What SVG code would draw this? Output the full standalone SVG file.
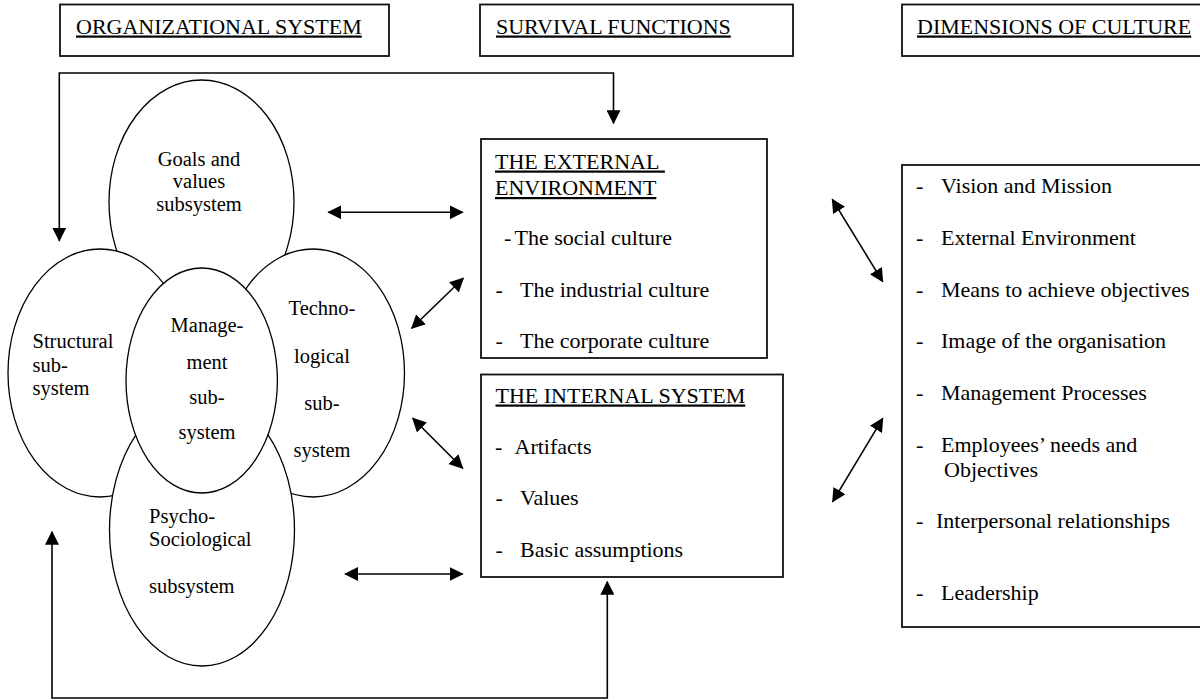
<svg xmlns="http://www.w3.org/2000/svg" width="1200" height="700" viewBox="0 0 1200 700">
  <defs>
    <marker id="arrow" viewBox="0 0 14 14" refX="13" refY="7" markerWidth="14" markerHeight="14" markerUnits="userSpaceOnUse" orient="auto-start-reverse">
      <path d="M0,0 L14,7 L0,14 z" fill="#000"/>
    </marker>
    <style>
      .box { fill: #fff; stroke: #111; stroke-width: 1.8; }
      .ell { fill: #fff; stroke: #000; stroke-width: 1.3; }
      .conn { fill: none; stroke: #000; stroke-width: 1.6; }
      .dbl { marker-start: url(#arrow); marker-end: url(#arrow); }
      text { font-family: "Liberation Serif", "Times New Roman", serif; fill: #000; }
      .hd { font-size: 22px; text-decoration: underline; }
      .it { font-size: 22px; }
      .el { font-size: 20.5px; }
      .mid { text-anchor: middle; }
    </style>
  </defs>
  <rect width="1200" height="700" fill="#fff"/>

  <!-- column headers -->
  <g id="hdr-org">
    <rect class="box" x="60" y="4.5" width="329" height="51.5"/>
    <text class="hd" x="76" y="33.5">ORGANIZATIONAL SYSTEM</text>
  </g>
  <g id="hdr-survival">
    <rect class="box" x="480" y="4.5" width="313" height="51.5"/>
    <text class="hd" x="496" y="33.5">SURVIVAL FUNCTIONS</text>
  </g>
  <g id="hdr-dimensions">
    <rect class="box" x="902" y="4.5" width="320" height="51.5"/>
    <text class="hd" x="917" y="33.5">DIMENSIONS OF CULTURE</text>
  </g>

  <!-- organizational subsystems (overlapping ellipses, back to front) -->
  <g id="goals">
    <ellipse class="ell" cx="201.5" cy="202" rx="92.5" ry="122"/>
    <text class="el mid" x="199" y="165.5">Goals and</text>
    <text class="el mid" x="199" y="188">values</text>
    <text class="el mid" x="199" y="210.5">subsystem</text>
  </g>
  <g id="structural">
    <ellipse class="ell" cx="100" cy="373" rx="92" ry="124"/>
    <text class="el" x="32.5" y="348">Structural</text>
    <text class="el" x="32.5" y="371.5">sub-</text>
    <text class="el" x="32.5" y="395">system</text>
  </g>
  <g id="technological">
    <ellipse class="ell" cx="313" cy="373" rx="91.5" ry="124"/>
    <text class="el mid" x="322" y="315">Techno-</text>
    <text class="el mid" x="322" y="363">logical</text>
    <text class="el mid" x="322" y="410">sub-</text>
    <text class="el mid" x="322" y="457">system</text>
  </g>
  <g id="psycho">
    <ellipse class="ell" cx="202" cy="530" rx="92.5" ry="136"/>
    <text class="el" x="149" y="523">Psycho-</text>
    <text class="el" x="149" y="546">Sociological</text>
    <text class="el" x="149" y="593">subsystem</text>
  </g>
  <g id="management">
    <ellipse class="ell" cx="201.7" cy="380.5" rx="75.7" ry="112.5"/>
    <text class="el mid" x="207" y="332">Manage-</text>
    <text class="el mid" x="207" y="368.5">ment</text>
    <text class="el mid" x="207" y="403.5">sub-</text>
    <text class="el mid" x="207" y="438.5">system</text>
  </g>

  <!-- survival functions -->
  <g id="external">
    <rect class="box" x="481" y="139" width="286" height="219"/>
    <text class="hd" x="495" y="168.5">THE EXTERNAL&#160;</text>
    <text class="hd" x="495" y="195">ENVIRONMENT</text>
    <text class="it" x="504" y="245">-</text>
    <text class="it" x="514.5" y="245">The social culture</text>
    <text class="it" x="495.5" y="297">-</text>
    <text class="it" x="520" y="297">The industrial culture</text>
    <text class="it" x="495.5" y="348">-</text>
    <text class="it" x="520" y="348">The corporate culture</text>
  </g>
  <g id="internal">
    <rect class="box" x="481" y="374.5" width="302" height="202.5"/>
    <text class="hd" x="495.5" y="402.5">THE INTERNAL SYSTEM</text>
    <text class="it" x="495" y="453.5">-</text>
    <text class="it" x="514.5" y="453.5">Artifacts</text>
    <text class="it" x="495.5" y="505">-</text>
    <text class="it" x="520" y="505">Values</text>
    <text class="it" x="495.5" y="557">-</text>
    <text class="it" x="520" y="557">Basic assumptions</text>
  </g>

  <!-- dimensions of culture -->
  <g id="dimensions">
    <rect class="box" x="902" y="165" width="320" height="462"/>
    <text class="it" x="916" y="193">-</text>
    <text class="it" x="941" y="193">Vision and Mission</text>
    <text class="it" x="916" y="245">-</text>
    <text class="it" x="941" y="245">External Environment</text>
    <text class="it" x="916" y="297">-</text>
    <text class="it" x="941" y="297">Means to achieve objectives</text>
    <text class="it" x="916" y="348">-</text>
    <text class="it" x="941" y="348">Image of the organisation</text>
    <text class="it" x="916" y="400">-</text>
    <text class="it" x="941" y="400">Management Processes</text>
    <text class="it" x="916" y="451.5">-</text>
    <text class="it" x="941" y="451.5">Employees’ needs and</text>
    <text class="it" x="944" y="477">Objectives</text>
    <text class="it" x="916" y="528">-</text>
    <text class="it" x="936" y="528">Interpersonal relationships</text>
    <text class="it" x="916" y="599.5">-</text>
    <text class="it" x="941" y="599.5">Leadership</text>
  </g>

  <!-- connectors -->
  <g id="connectors">
    <path class="conn dbl" d="M59.3,240.7 V73 H613.5 V123.3"/>
    <path class="conn dbl" d="M52,531.7 V698 H607.3 V581.7"/>
    <path class="conn dbl" d="M328.3,212.3 H462.7"/>
    <path class="conn dbl" d="M345,574 H462.7"/>
    <path class="conn dbl" d="M411.7,328.3 L463.3,278.3"/>
    <path class="conn dbl" d="M412.7,418.3 L462.7,468.3"/>
    <path class="conn dbl" d="M832.3,199.3 L882.7,281.7"/>
    <path class="conn dbl" d="M882.7,418.3 L832.7,501.7"/>
  </g>
</svg>
